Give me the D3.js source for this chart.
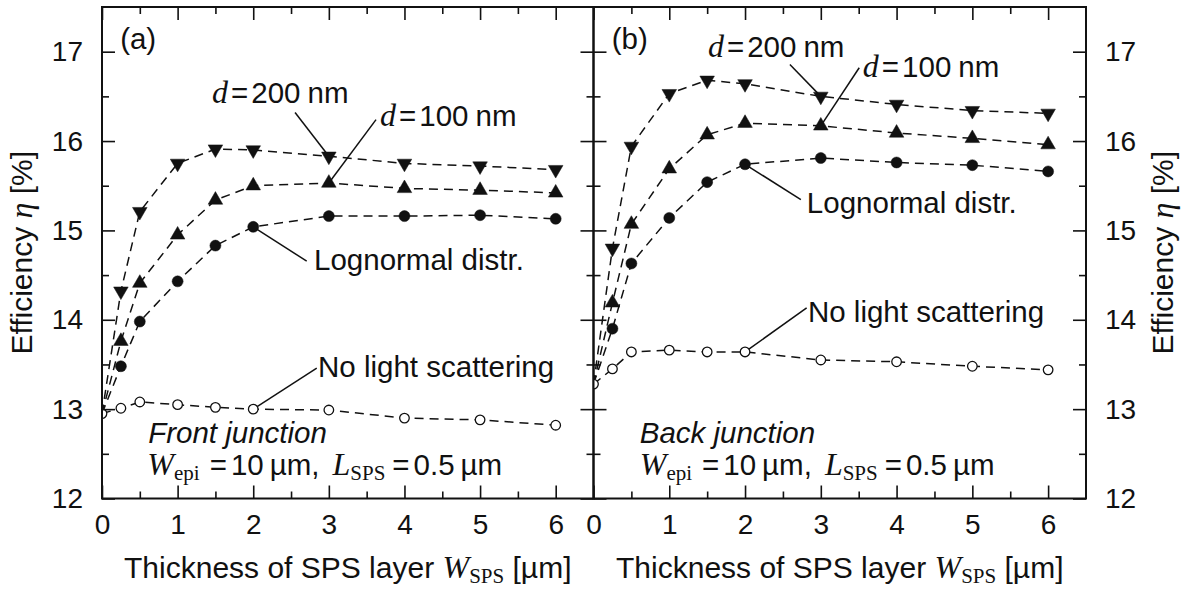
<!DOCTYPE html>
<html>
<head>
<meta charset="utf-8">
<script src="https://cdn.jsdelivr.net/npm/d3@7"></script>
<style>
  body { margin: 0; background: #fff; }
  svg { display: block; }
  text { fill: #111; }
</style>
</head>
<body>
<svg id="chart" width="1189" height="590"></svg>
<script>
// SPS layer thickness (µm) at which efficiency was computed
const thickness = [0, 0.25, 0.5, 1, 1.5, 2, 3, 4, 5, 6];
const xTickValues = [0, 1, 2, 3, 4, 5, 6];
const xMinorValues = [0.5, 1.5, 2.5, 3.5, 4.5, 5.5];
const yTickValues = [12, 13, 14, 15, 16, 17];
const yMinorValues = [12.5, 13.5, 14.5, 15.5, 16.5];

// (a) front junction, efficiency in %
const frontD200 = [12.95, 14.32, 15.21, 15.75, 15.91, 15.90, 15.83, 15.75, 15.72, 15.68];
const frontD100 = [12.95, 13.76, 14.41, 14.95, 15.34, 15.50, 15.53, 15.47, 15.45, 15.42];
const frontLognormal = [12.95, 13.48, 13.98, 14.43, 14.83, 15.04, 15.16, 15.16, 15.17, 15.13];
const frontNoScatter = [12.95, 13.01, 13.08, 13.05, 13.02, 13.00, 12.99, 12.90, 12.88, 12.82];

// (b) back junction, efficiency in %
const backD200 = [13.28, 14.80, 15.94, 16.53, 16.68, 16.64, 16.50, 16.41, 16.34, 16.31];
const backD100 = [13.28, 14.19, 15.07, 15.69, 16.07, 16.20, 16.17, 16.09, 16.03, 15.96];
const backLognormal = [13.28, 13.90, 14.63, 15.14, 15.54, 15.74, 15.81, 15.76, 15.73, 15.66];
const backNoScatter = [13.28, 13.45, 13.64, 13.66, 13.64, 13.64, 13.55, 13.53, 13.48, 13.44];

const xDomain = [0, 6.5];
const yDomain = [12, 17.5];

const sans = "'Liberation Sans', Arial, Helvetica, sans-serif";
const serif = "'Liberation Serif', 'Times New Roman', serif";
const tickSize = 28;
const textSize = 29.5;
const mathSize = 32;
const subSize = 21;

const svg = d3.select("#chart");
const plotTop = 7, plotBottom = 498.5;

const panels = [
  {
    id: "a", left: 102, right: 593.5, tag: "(a)", junction: "Front junction",
    series: [
      { values: frontD200, marker: "down" },
      { values: frontD100, marker: "up" },
      { values: frontLognormal, marker: "dot" },
      { values: frontNoScatter, marker: "open" }
    ],
    notes: [
      { label: "d200", at: [1.455, 16.43], from: [2.553, 16.32], to: [3, 1] },
      { label: "d100", at: [3.677, 16.166], from: [3.624, 16.24], to: [3, 2] },
      { label: "logn", at: [2.804, 14.56], from: [2.707, 14.656], to: [2, 3] },
      { label: "none", at: [2.857, 13.362], from: [2.84, 13.46], to: [2, 4] }
    ],
    tagAt: [0.24, 17.03], juncAt: [0.61, 12.62], paramAt: [0.6, 12.26],
    labelLeft: true
  },
  {
    id: "b", left: 593.5, right: 1086, tag: "(b)", junction: "Back junction",
    series: [
      { values: backD200, marker: "down" },
      { values: backD100, marker: "up" },
      { values: backLognormal, marker: "dot" },
      { values: backNoScatter, marker: "open" }
    ],
    notes: [
      { label: "d200", at: [1.51, 16.943], from: [2.592, 16.857], to: [3, 1] },
      { label: "d100", at: [3.555, 16.715], from: [3.507, 16.82], to: [3, 2] },
      { label: "logn", at: [2.816, 15.2], from: [2.737, 15.345], to: [2, 3] },
      { label: "none", at: [2.83, 13.98], from: [2.813, 14.134], to: [2, 4] }
    ],
    tagAt: [0.24, 17.03], juncAt: [0.61, 12.62], paramAt: [0.61, 12.26],
    labelLeft: false
  }
];

// text pieces: math symbols in serif italic, subscripts in small serif
const noteText = {
  d200: [{ t: "d", math: true }, { t: "=", dx: 3 }, { t: "200", dx: 3 }, { t: "nm", dx: 7 }],
  d100: [{ t: "d", math: true }, { t: "=", dx: 3 }, { t: "100", dx: 3 }, { t: "nm", dx: 7 }],
  logn: [{ t: "Lognormal distr." }],
  none: [{ t: "No light scattering" }]
};
const paramText = [
  { t: "W", math: true }, { t: "epi", sub: true }, { t: "=", dx: 10 }, { t: "10", dx: 4 },
  { t: "µm", dx: 6 }, { t: "," }, { t: "L", math: true, dx: 13 }, { t: "SPS", sub: true },
  { t: "=", dx: 7 }, { t: "0.5", dx: 4 }, { t: "µm", dx: 6 }
];
const xTitleText = [
  { t: "Thickness of SPS layer " }, { t: "W", math: true }, { t: "SPS", sub: true }, { t: " [µm]" }
];
const yTitleText = [{ t: "Efficiency " }, { t: "η", math: true }, { t: " [%]" }];

function richText(sel, segs) {
  let shift = 0;
  segs.forEach(s => {
    const ts = sel.append("tspan").text(s.t);
    if (s.math) ts.attr("font-family", serif).attr("font-style", "italic").attr("font-size", mathSize);
    if (s.sub) {
      ts.attr("font-family", serif).attr("font-size", subSize).attr("dy", 5);
      shift = 5;
    } else if (shift) {
      ts.attr("dy", -shift);
      shift = 0;
    }
    if (s.dx) ts.attr("dx", s.dx);
  });
  return sel;
}

const markerPath = {
  down: d3.symbol(d3.symbolTriangle, 92)(),
  up: d3.symbol(d3.symbolTriangle, 92)(),
  dot: d3.symbol(d3.symbolCircle, 95)(),
  open: d3.symbol(d3.symbolCircle, 72)()
};

panels.forEach(p => {
  const x = d3.scaleLinear().domain(xDomain).range([p.left, p.right]);
  const y = d3.scaleLinear().domain(yDomain).range([plotBottom, plotTop]);
  const g = svg.append("g").attr("font-family", sans).attr("font-size", textSize);

  const clipId = "clip-" + p.id;
  g.append("clipPath").attr("id", clipId)
    .append("rect")
    .attr("x", p.left).attr("y", plotTop)
    .attr("width", p.right - p.left).attr("height", plotBottom - plotTop);

  const plot = g.append("g").attr("clip-path", `url(#${clipId})`);

  // dashed curves
  const line = d3.line().x((d, i) => x(thickness[i])).y(d => y(d));
  p.series.forEach(s => {
    plot.append("path")
      .attr("d", line(s.values))
      .attr("fill", "none")
      .attr("stroke", "#111")
      .attr("stroke-width", 1.5)
      .attr("stroke-dasharray", "9,6");
  });

  // leader lines from labels to their curve
  p.notes.forEach(n => {
    const s = p.series[n.to[1] - 1];
    const i = thickness.indexOf(n.to[0]);
    plot.append("line")
      .attr("x1", x(n.from[0])).attr("y1", y(n.from[1]))
      .attr("x2", x(thickness[i])).attr("y2", y(s.values[i]))
      .attr("stroke", "#111").attr("stroke-width", 1.5);
  });

  // markers (filled series share the bare-cell starting point)
  p.series.forEach(s => {
    const pts = s.values.map((v, i) => ({ x: thickness[i], v, i }))
      .filter(d => s.marker === "open" || d.i > 0);
    plot.selectAll(null).data(pts).enter().append("path")
      .attr("d", markerPath[s.marker])
      .attr("transform", d => `translate(${x(d.x)},${y(d.v)})` + (s.marker === "down" ? " rotate(180)" : ""))
      .attr("fill", s.marker === "open" ? "#fff" : "#111")
      .attr("stroke", "#111")
      .attr("stroke-width", s.marker === "open" ? 1.3 : 0.5);
  });

  // axes with inward ticks on all four sides
  const styleAxis = a => {
    a.select(".domain").remove();
    a.selectAll(".tick line").attr("stroke", "#111").attr("stroke-width", 1.6);
    a.selectAll("text").attr("font-family", sans).attr("font-size", tickSize).attr("fill", "#111");
  };
  g.append("g").attr("transform", `translate(0,${plotBottom})`)
    .call(d3.axisBottom(x).tickValues(xTickValues).tickSize(-13).tickPadding(16).tickFormat(d3.format("d")))
    .call(styleAxis);
  g.append("g").attr("transform", `translate(0,${plotBottom})`)
    .call(d3.axisBottom(x).tickValues(xMinorValues).tickSize(-7).tickFormat(""))
    .call(styleAxis);
  g.append("g").attr("transform", `translate(0,${plotTop})`)
    .call(d3.axisTop(x).tickValues(xTickValues).tickSize(-13).tickFormat(""))
    .call(styleAxis);
  g.append("g").attr("transform", `translate(0,${plotTop})`)
    .call(d3.axisTop(x).tickValues(xMinorValues).tickSize(-7).tickFormat(""))
    .call(styleAxis);
  g.append("g").attr("transform", `translate(${p.left},0)`)
    .call(d3.axisLeft(y).tickValues(yTickValues).tickSize(-13).tickPadding(19)
      .tickFormat(p.labelLeft ? d3.format("d") : ""))
    .call(styleAxis);
  g.append("g").attr("transform", `translate(${p.left},0)`)
    .call(d3.axisLeft(y).tickValues(yMinorValues).tickSize(-7).tickFormat(""))
    .call(styleAxis);
  g.append("g").attr("transform", `translate(${p.right},0)`)
    .call(d3.axisRight(y).tickValues(yTickValues).tickSize(-13).tickPadding(19)
      .tickFormat(p.labelLeft ? "" : d3.format("d")))
    .call(styleAxis);
  g.append("g").attr("transform", `translate(${p.right},0)`)
    .call(d3.axisRight(y).tickValues(yMinorValues).tickSize(-7).tickFormat(""))
    .call(styleAxis);

  // frame
  g.append("rect")
    .attr("x", p.left).attr("y", plotTop)
    .attr("width", p.right - p.left).attr("height", plotBottom - plotTop)
    .attr("fill", "none").attr("stroke", "#111").attr("stroke-width", 2);

  // panel tag and annotations
  g.append("text").attr("x", x(p.tagAt[0])).attr("y", y(p.tagAt[1])).text(p.tag);
  p.notes.forEach(n => {
    richText(g.append("text").attr("x", x(n.at[0])).attr("y", y(n.at[1])), noteText[n.label]);
  });
  g.append("text").attr("x", x(p.juncAt[0])).attr("y", y(p.juncAt[1]))
    .attr("font-style", "italic").text(p.junction);
  richText(g.append("text").attr("x", x(p.paramAt[0])).attr("y", y(p.paramAt[1])), paramText);

  // axis titles
  richText(g.append("text")
    .attr("x", (p.left + p.right) / 2).attr("y", 578)
    .attr("font-size", 30)
    .attr("text-anchor", "middle"), xTitleText);

  const yTitleX = p.labelLeft ? 32 : 1173;
  richText(g.append("text")
    .attr("transform", `translate(${yTitleX},${(plotTop + plotBottom) / 2}) rotate(-90)`)
    .attr("font-size", 30)
    .attr("text-anchor", "middle"), yTitleText);
});
</script>
</body>
</html>
